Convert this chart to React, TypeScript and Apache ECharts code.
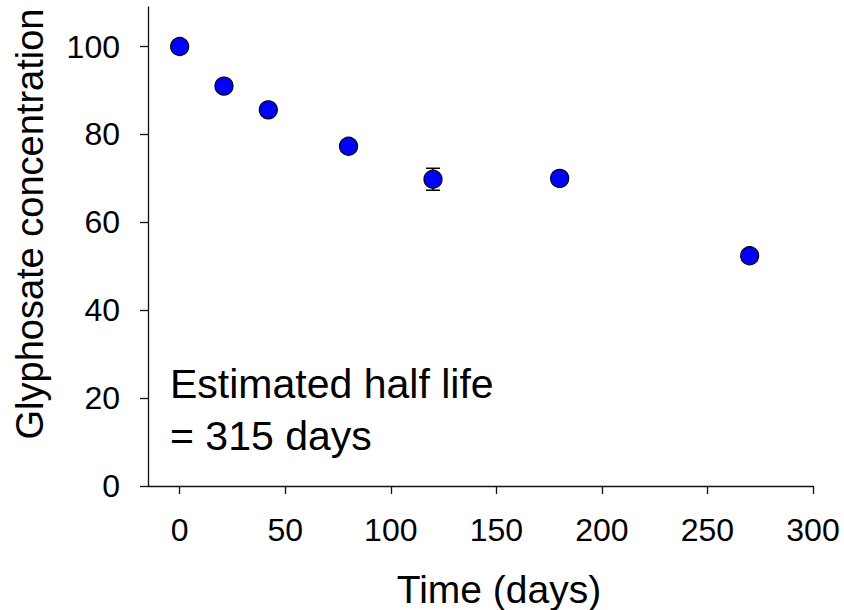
import React, { useEffect, useRef } from 'react';
import * as echarts from 'echarts';

const timeDays = [0, 21, 42, 80, 120, 180, 270];
const concentration = [100, 91.0, 85.6, 77.3, 69.8, 70.0, 52.4];
const errors = [0.8, 0.8, 0.8, 0.8, 2.5, 1.2, 0.8];
const xTicks = [0, 50, 100, 150, 200, 250, 300];
const yTicks = [0, 20, 40, 60, 80, 100];
const xTitle = 'Time (days)';
const yTitle = 'Glyphosate concentration';
const annotation = 'Estimated half life\n= 315 days';

const FONT = '"Liberation Sans", Arial, Helvetica, sans-serif';

export default function App() {
  const ref = useRef<HTMLDivElement>(null);
  useEffect(() => {
    if (!ref.current) return;
    const chart = echarts.init(ref.current, undefined, { renderer: 'svg' });
    const points = timeDays.map((t, i) => [t, concentration[i]]);
    const errData = timeDays.map((t, i) => [t, concentration[i], errors[i]]);
    chart.setOption({
      animation: false,
      backgroundColor: '#fff',
      textStyle: { fontFamily: FONT },
      grid: { left: 148, right: 31, top: 7, bottom: 124, containLabel: false },
      xAxis: {
        type: 'value',
        min: -15,
        max: 300,
        axisLine: { show: true, onZero: false, lineStyle: { color: '#111', width: 1.3 } },
        axisTick: { show: true, inside: false, length: 8, customValues: xTicks, lineStyle: { color: '#111', width: 1.3 } },
        axisLabel: { customValues: xTicks, fontSize: 32, margin: 28, color: '#000', fontFamily: FONT },
        splitLine: { show: false },
      },
      yAxis: {
        type: 'value',
        min: 0,
        max: 109,
        axisLine: { show: true, onZero: false, lineStyle: { color: '#111', width: 1.3 } },
        axisTick: { show: true, inside: false, length: 8, customValues: yTicks, lineStyle: { color: '#111', width: 1.3 } },
        axisLabel: { customValues: yTicks, fontSize: 32, margin: 28, color: '#000', fontFamily: FONT },
        splitLine: { show: false },
      },
      series: [
        {
          type: 'custom',
          z: 1,
          data: errData,
          renderItem: (params: any, api: any) => {
            const x = api.value(0);
            const y = api.value(1);
            const e = api.value(2);
            const top = api.coord([x, y + e]);
            const bot = api.coord([x, y - e]);
            const hw = 7;
            const st = { stroke: '#000', lineWidth: 1.5 };
            return {
              type: 'group',
              children: [
                { type: 'line', shape: { x1: top[0], y1: top[1], x2: bot[0], y2: bot[1] }, style: st },
                { type: 'line', shape: { x1: top[0] - hw, y1: top[1], x2: top[0] + hw, y2: top[1] }, style: st },
                { type: 'line', shape: { x1: bot[0] - hw, y1: bot[1], x2: bot[0] + hw, y2: bot[1] }, style: st },
              ],
            };
          },
        },
        {
          type: 'scatter',
          z: 3,
          data: points,
          symbol: 'circle',
          symbolSize: 18,
          itemStyle: { color: '#0000FF', borderColor: '#000', borderWidth: 1.2, opacity: 1 },
        },
      ],
      graphic: [
        {
          type: 'text',
          left: 170,
          top: 358,
          style: { text: annotation, fontSize: 41, lineHeight: 52, fill: '#000', fontFamily: FONT },
        },
        {
          type: 'text',
          x: 499,
          y: 589,
          style: { text: xTitle, fontSize: 39, fill: '#000', fontFamily: FONT, align: 'center', verticalAlign: 'middle' },
        },
        {
          type: 'text',
          x: 30,
          y: 224,
          rotation: Math.PI / 2,
          style: { text: yTitle, fontSize: 38, fill: '#000', fontFamily: FONT, align: 'center', verticalAlign: 'middle' },
        },
      ],
    });
    return () => chart.dispose();
  }, []);
  return <div ref={ref} style={{ position: 'fixed', left: 0, top: 0, width: 844, height: 610 }} />;
}
